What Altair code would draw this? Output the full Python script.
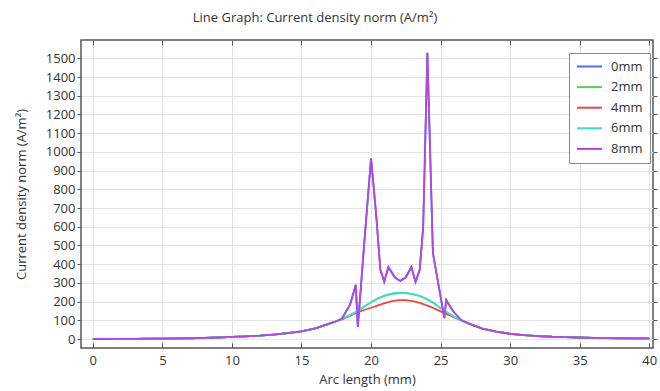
import altair as alt
import pandas as pd

FONT = "Open Sans"
TXT = "#333333"

series_names = ["0mm", "2mm", "4mm", "6mm", "8mm"]
series_colors = ["#4a6ff0", "#4fcf62", "#e84a43", "#3ddcd2", "#b446e0"]

x_ticks = [0, 5, 10, 15, 20, 25, 30, 35, 40]
y_ticks = [0, 100, 200, 300, 400, 500, 600, 700, 800, 900, 1000, 1100, 1200, 1300, 1400, 1500]

# shared tails (all series coincide here)
x_left = [0, 1, 2, 3, 4, 5, 6, 7, 8, 9, 10, 11, 12, 13, 14, 15, 16, 17, 17.5]
y_left = [0, 0, 0.5, 1, 1.5, 2, 3, 4, 6, 8, 11, 14, 18, 24, 31, 41, 57, 82, 95]
x_right = [27, 28, 29, 30, 31, 32, 33, 34, 35, 36, 37, 38, 39, 40]
y_right = [84, 56, 39, 28, 21, 16, 12, 10, 8, 6, 5, 4, 3, 3]

# smooth middle part (4mm and 6mm / 2mm)
x_mid = [18, 18.5, 19, 19.5, 20, 20.5, 21, 21.5, 22, 22.5, 23, 23.5, 24, 24.5, 25, 25.5, 26, 26.5]
y_4mm = [108, 125, 142, 155, 167, 180, 192, 202, 208, 208, 203, 193, 180, 165, 148, 132, 115, 100]
y_6mm = [110, 128, 147, 173, 197, 217, 232, 242, 246, 245, 240, 230, 214, 192, 165, 140, 118, 100]

# spiky middle part (0mm and 8mm)
x_spike = [17.9, 18.5, 18.9, 19.05, 19.5, 20.0, 20.36, 20.67, 20.95, 21.25, 21.7, 22.1, 22.5,
           22.9, 23.2, 23.5, 23.75, 24.05, 24.45, 25.27, 25.4, 25.9, 26.5]
y_spike = [108, 185, 290, 65, 500, 966, 672, 370, 307, 385, 330, 310, 330,
           385, 305, 370, 600, 1530, 459, 112, 208, 148, 100]

series_data = {
    "0mm": (x_spike, y_spike),
    "2mm": (x_mid, y_6mm),
    "4mm": (x_mid, y_4mm),
    "6mm": (x_mid, y_6mm),
    "8mm": (x_spike, y_spike),
}

rows = []
for k, name in enumerate(series_names):
    xm, ym = series_data[name]
    xs = x_left + xm + x_right
    ys = y_left + ym + y_right
    for i, (xv, yv) in enumerate(zip(xs, ys)):
        rows.append({"x": xv, "y": yv, "series": name, "k": k, "i": i})
df = pd.DataFrame(rows)

x_scale = alt.Scale(domain=[-0.85, 40.27], nice=False, zero=False)
y_scale = alt.Scale(domain=[-48, 1598], nice=False, zero=False)

lines = alt.Chart(df).mark_line(strokeWidth=1.8, clip=True).encode(
    x=alt.X("x:Q", scale=x_scale, title="Arc length (mm)",
            axis=alt.Axis(values=x_ticks, orient="bottom", offset=-5, tickSize=5, format="d",
                          labelPadding=6, titlePadding=6, grid=True, domain=False)),
    y=alt.Y("y:Q", scale=y_scale, title="Current density norm (A/m²)",
            axis=alt.Axis(values=y_ticks, orient="left", tickSize=4, labelPadding=2, format="d",
                          titlePadding=17, grid=True, domain=False)),
    color=alt.Color("series:N", scale=alt.Scale(domain=series_names, range=series_colors),
                    legend=alt.Legend(title=None, orient="none", legendX=488, legendY=13,
                                      symbolType="M-2.5,0L2.5,0", symbolSize=100,
                                      symbolStrokeWidth=2, rowPadding=6.6,
                                      padding=7, symbolOffset=7, labelOffset=15,
                                      labelFontSize=13, labelFont=FONT, labelColor=TXT,
                                      strokeColor="#8a8a8a", fillColor="white")),
    detail="series:N",
    order="i:Q",
)

frame = alt.Chart(df).mark_line(opacity=0).encode(
    x=alt.X("x:Q", scale=x_scale, title=None,
            axis=alt.Axis(values=x_ticks, orient="top", offset=-5, tickSize=5,
                          labels=False, grid=False, domain=False)),
    y=alt.Y("y:Q", scale=y_scale, title=None,
            axis=alt.Axis(values=y_ticks, orient="right", tickSize=4,
                          labels=False, grid=False, domain=False)),
)

chart = alt.layer(lines, frame).resolve_axis(x="independent", y="independent").properties(
    width=572, height=308,
    title=alt.TitleParams(text="Line Graph: Current density norm (A/m²)", fontSize=13,
                          font=FONT, fontWeight="normal", color=TXT, anchor="middle",
                          dx=-52, dy=7, offset=9, baseline="bottom"),
    autosize=alt.AutoSizeParams(type="none"),
    padding={"left": 81, "top": 40, "right": 7, "bottom": 43},
).configure_view(
    stroke="#555555", strokeWidth=1.5
).configure_axis(
    labelFont=FONT, labelFontSize=13, labelColor=TXT,
    titleFont=FONT, titleFontSize=13, titleColor=TXT, titleFontWeight="normal",
    tickColor="#555555", tickWidth=1,
    gridColor="#e3e3e3", gridWidth=1,
)

chart.save("out.html", embed_options={"renderer": "svg", "actions": False})
